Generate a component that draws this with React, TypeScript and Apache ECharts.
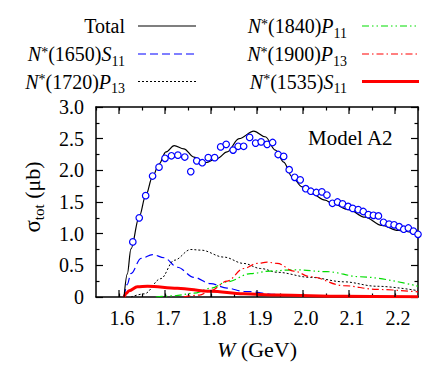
import React, { useEffect, useRef } from "react";
import * as echarts from "echarts";

// Experimental data (W in GeV, sigma in microbarn)
const dataW = [1.630,1.644,1.658,1.673,1.687,1.700,1.714,1.728,1.743,1.756,1.769,1.781,1.794,1.808,1.821,1.833,1.848,1.859,1.871,1.884,1.897,1.909,1.922,1.934,1.946,1.958,1.970,1.982,1.994,2.006,2.017,2.029,2.041,2.052,2.064,2.075,2.086,2.098,2.108,2.120,2.131,2.142,2.153,2.164,2.175,2.187,2.198,2.209,2.219,2.229,2.240,2.250];
const dataSigma = [0.87,1.25,1.60,1.91,2.05,2.19,2.23,2.24,2.21,1.98,2.15,2.12,2.20,2.20,2.37,2.41,2.32,2.38,2.38,2.52,2.43,2.45,2.41,2.44,2.25,2.22,2.01,1.89,1.85,1.71,1.67,1.65,1.66,1.61,1.48,1.50,1.47,1.43,1.40,1.38,1.35,1.30,1.29,1.28,1.18,1.15,1.14,1.11,1.07,1.09,1.04,0.99];

// Model curves [W, sigma]
const curveTotal = [[1.611,0],[1.618,0.36],[1.626,0.76],[1.644,1.27],[1.658,1.6],[1.673,1.9],[1.687,2.1],[1.702,2.29],[1.720,2.39],[1.741,2.34],[1.763,2.21],[1.788,2.12],[1.814,2.19],[1.835,2.29],[1.861,2.50],[1.893,2.62],[1.918,2.53],[1.940,2.32],[1.958,2.13],[1.976,1.90],[1.998,1.74],[2.019,1.63],[2.048,1.53],[2.063,1.48],[2.099,1.38],[2.135,1.26],[2.171,1.13],[2.207,1.05],[2.25,0.99]];
const curve1650 = [[1.611,0],[1.618,0.2],[1.626,0.37],[1.648,0.61],[1.673,0.67],[1.698,0.62],[1.727,0.47],[1.763,0.31],[1.799,0.21],[1.835,0.14],[1.871,0.09],[1.944,0.04],[2.016,0.015],[2.1,0.005],[2.25,0]];
const curve1720 = [[1.626,0],[1.655,0.05],[1.691,0.29],[1.720,0.58],[1.756,0.75],[1.778,0.74],[1.828,0.63],[1.871,0.53],[1.908,0.45],[1.944,0.39],[2.016,0.31],[2.088,0.24],[2.160,0.17],[2.25,0.1]];
const curve1840 = [[1.68,0],[1.72,0.02],[1.763,0.06],[1.8,0.14],[1.835,0.24],[1.886,0.37],[1.929,0.41],[1.980,0.43],[2.052,0.40],[2.124,0.32],[2.25,0.17]];
const curve1900 = [[1.74,0],[1.775,0.03],[1.799,0.1],[1.835,0.25],[1.871,0.45],[1.900,0.53],[1.922,0.55],[1.944,0.53],[1.980,0.41],[2.016,0.32],[2.088,0.18],[2.160,0.12],[2.25,0.08]];
const curve1535 = [[1.611,0],[1.616,0.06],[1.622,0.1],[1.640,0.16],[1.662,0.17],[1.727,0.14],[1.799,0.09],[1.871,0.05],[1.944,0.03],[2.088,0.01],[2.25,0.003]];

const majorX = [1.6, 1.7, 1.8, 1.9, 2.0, 2.1, 2.2];

const legendCol1 = [
  { text: "Total", color: "#000", width: 1.2, dash: null as number[] | null },
  { text: "{i|N}{sup|*}{n|(1650)}{i|S}{sub|11}", color: "#0000ff", width: 1.2, dash: [8, 4] },
  { text: "{i|N}{sup|*}{n|(1720)}{i|P}{sub|13}", color: "#000", width: 1, dash: [2, 2] },
];
const legendCol2 = [
  { text: "{i|N}{sup|*}{n|(1840)}{i|P}{sub|11}", color: "#00dd00", width: 1.2, dash: [7, 3, 1.5, 3, 1.5, 3] },
  { text: "{i|N}{sup|*}{n|(1900)}{i|P}{sub|13}", color: "#ff0000", width: 1.2, dash: [7, 3, 1.5, 3] },
  { text: "{i|N}{sup|*}{n|(1535)}{i|S}{sub|11}", color: "#ff0000", width: 3, dash: null as number[] | null },
];

const FONT = "'Liberation Serif', 'Times New Roman', serif";

const rich = {
  i: { fontFamily: FONT, fontSize: 20, fontStyle: "italic", fill: "#000", color: "#000" },
  n: { fontFamily: FONT, fontSize: 20, fill: "#000", color: "#000" },
  sup: { fontFamily: FONT, fontSize: 14, padding: [0, 0, 4, 0], fill: "#000", color: "#000" },
  sub: { fontFamily: FONT, fontSize: 14, padding: [14, 0, 0, 0], fill: "#000", color: "#000" },
};

export default function App() {
  const ref = useRef<HTMLDivElement>(null);
  useEffect(() => {
    if (!ref.current) return;
    const chart = echarts.init(ref.current, null, { renderer: "svg" });

    const rowsY = [26, 54, 81.5];
    const graphics: any[] = [];
    const addCol = (items: any[], textRight: number, lx1: number, lx2: number) => {
      items.forEach((it, k) => {
        const y = rowsY[k];
        graphics.push({
          type: "text",
          x: textRight,
          y,
          style: {
            text: it.text,
            align: "right",
            verticalAlign: "middle",
            fontFamily: FONT,
            fontSize: 20,
            fill: "#000",
            rich,
          },
        });
        graphics.push({
          type: "line",
          shape: { x1: lx1, y1: y, x2: lx2, y2: y },
          style: { stroke: it.color, lineWidth: it.width, lineDash: it.dash || undefined },
        });
      });
    };
    addCol(legendCol1, 125, 138, 196);
    addCol(legendCol2, 347, 362, 419);
    graphics.push({
      type: "text",
      x: 308,
      y: 138,
      style: { text: "Model A2", fontFamily: FONT, fontSize: 21, fill: "#000", verticalAlign: "middle" },
    });

    const axisLine = { show: true, onZero: false, lineStyle: { color: "#000", width: 1.5 } };
    const tickStyle = { color: "#000", width: 1.2 };
    const xLabelFmt = (v: number) => (Math.round(v * 100) % 10 === 0 ? v.toFixed(1) : "");

    const lineSeries = (data: number[][], color: string, width: number, type: any, z: number) => ({
      type: "line",
      data,
      showSymbol: false,
      smooth: 0.35,
      smoothMonotone: "x",
      silent: true,
      z,
      lineStyle: { color, width, type },
    });

    const option: any = {
      animation: false,
      textStyle: { fontFamily: FONT },
      grid: { left: 96, right: 18, top: 107, bottom: 68, containLabel: false },
      xAxis: [
        {
          type: "value",
          min: 1.55,
          max: 2.25,
          interval: 0.05,
          position: "bottom",
          axisLine,
          axisTick: { show: true, inside: true, length: 3.5, lineStyle: tickStyle },
          axisLabel: {
            formatter: xLabelFmt,
            fontFamily: FONT,
            fontSize: 20,
            color: "#000",
            margin: 11,
            showMinLabel: false,
            showMaxLabel: false,
            padding: [0, 0, 0, 6],
          },
          splitLine: { show: false },
          name: "{i|W}{n| (GeV)}",
          nameLocation: "middle",
          nameGap: 41,
          nameTextStyle: {
            fontFamily: FONT,
            fontSize: 22,
            color: "#000",
            rich: {
              i: { fontFamily: FONT, fontSize: 22, fontStyle: "italic", color: "#000" },
              n: { fontFamily: FONT, fontSize: 22, color: "#000" },
            },
          },
        },
        {
          type: "value",
          min: 1.55,
          max: 2.25,
          interval: 0.05,
          position: "top",
          axisLine,
          axisTick: { show: true, inside: true, length: 3.5, lineStyle: tickStyle },
          axisLabel: { show: false },
          splitLine: { show: false },
        },
      ],
      yAxis: [
        {
          type: "value",
          min: 0,
          max: 3,
          interval: 0.5,
          position: "left",
          axisLine,
          axisTick: { show: true, inside: true, length: 7, lineStyle: tickStyle },
          minorTick: { show: true, splitNumber: 2, length: 3.5, lineStyle: tickStyle },
          axisLabel: {
            formatter: (v: number) => (v === 0 ? "0" : v.toFixed(1)),
            fontFamily: FONT,
            fontSize: 20,
            color: "#000",
            margin: 12,
          },
          splitLine: { show: false },
          minorSplitLine: { show: false },
          name: "{s|σ}{sub|tot}{n| (μb)}",
          nameLocation: "middle",
          nameGap: 50,
          nameTextStyle: {
            fontFamily: FONT,
            fontSize: 22,
            color: "#000",
            padding: [0, 0, 0, 10],
            rich: {
              s: { fontFamily: FONT, fontSize: 23, color: "#000" },
              n: { fontFamily: FONT, fontSize: 22, color: "#000" },
              sub: { fontFamily: FONT, fontSize: 15, color: "#000", padding: [12, 0, 0, 0] },
            },
          },
        },
        {
          type: "value",
          min: 0,
          max: 3,
          interval: 0.5,
          position: "right",
          axisLine,
          axisTick: { show: true, inside: true, length: 7, lineStyle: tickStyle },
          minorTick: { show: true, splitNumber: 2, length: 3.5, lineStyle: tickStyle },
          axisLabel: { show: false },
          splitLine: { show: false },
          minorSplitLine: { show: false },
        },
      ],
      graphic: graphics,
      series: [
        {
          type: "custom",
          silent: true,
          z: 10,
          data: majorX.map((v) => [v, 0]),
          renderItem: (_p: any, api: any) => {
            const v = api.value(0);
            const b = api.coord([v, 0]);
            const t = api.coord([v, 3]);
            return {
              type: "group",
              children: [
                { type: "line", shape: { x1: b[0], y1: b[1], x2: b[0], y2: b[1] - 7 }, style: { stroke: "#000", lineWidth: 1.2 } },
                { type: "line", shape: { x1: t[0], y1: t[1], x2: t[0], y2: t[1] + 7 }, style: { stroke: "#000", lineWidth: 1.2 } },
              ],
            };
          },
        },
        lineSeries(curve1650, "#0000ff", 1.2, [8, 4], 2),
        lineSeries(curve1720, "#000", 1, [2, 2], 2),
        lineSeries(curve1840, "#00dd00", 1.2, [7, 3, 1.5, 3, 1.5, 3], 2),
        lineSeries(curve1900, "#ff0000", 1.2, [7, 3, 1.5, 3], 2),
        lineSeries(curve1535, "#ff0000", 3, "solid", 3),
        lineSeries(curveTotal, "#000", 1.2, "solid", 4),
        {
          type: "scatter",
          data: dataW.map((w, i) => [w, dataSigma[i]]),
          symbol: "circle",
          symbolSize: 6.5,
          silent: true,
          z: 5,
          itemStyle: { color: "#ffffff", borderColor: "#0000ff", borderWidth: 1.2, opacity: 1 },
        },
      ],
    };
    chart.setOption(option);
    return () => chart.dispose();
  }, []);
  return (
    <div
      ref={ref}
      style={{ position: "fixed", left: 0, top: 0, width: 436, height: 365, background: "#fff" }}
    />
  );
}
